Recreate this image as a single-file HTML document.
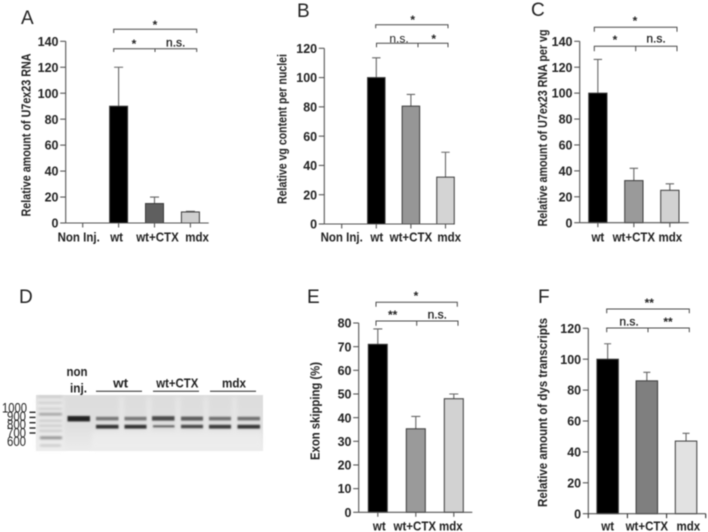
<!DOCTYPE html>
<html lang="en">
<head>
<meta charset="utf-8">
<title>U7ex23 RNA and exon skipping figure</title>
<style>
html,body{margin:0;padding:0;background:#fff;width:708px;height:532px;overflow:hidden}
svg{display:block;filter:blur(0.4px)}
text{font-family:"Liberation Sans",sans-serif;fill:#222}
</style>
</head>
<body>
<svg id="figure" width="708" height="532" viewBox="0 0 708 532" xmlns="http://www.w3.org/2000/svg">
  <defs>
    <filter id="band-blur" x="-10%" y="-100%" width="120%" height="300%"><feGaussianBlur stdDeviation="0.9"></feGaussianBlur></filter>
    <filter id="gel-blur" x="-5%" y="-5%" width="110%" height="110%"><feGaussianBlur stdDeviation="1.1"></feGaussianBlur></filter>
    <filter id="lane-blur" x="-20%" y="-20%" width="140%" height="140%"><feGaussianBlur stdDeviation="2"></feGaussianBlur></filter>
    <linearGradient id="gel-shade" x1="0" y1="0" x2="0" y2="1">
      <stop offset="0" stop-color="#dcdcdc"></stop>
      <stop offset="0.55" stop-color="#e0e0e0"></stop>
      <stop offset="1" stop-color="#ececec"></stop>
    </linearGradient>
  </defs>
  <g id="panels"></g>

  <g>
    <text x="19" y="303" font-size="19">D</text>
    <rect x="36" y="395" width="227" height="56" fill="url(#gel-shade)"></rect>
    <g filter="url(#lane-blur)" fill="#f0f0f0" opacity="0.6">
      <rect x="36" y="398" width="28" height="52"></rect>
      <rect x="92" y="432" width="170" height="17"></rect>
      <rect x="119.5" y="397" width="4" height="36"></rect>
      <rect x="147" y="397" width="4" height="36"></rect>
      <rect x="176" y="397" width="4" height="36"></rect>
      <rect x="204" y="397" width="4" height="36"></rect>
      <rect x="232.5" y="397" width="4" height="36"></rect>
    </g>
    <g filter="url(#gel-blur)">
      <rect x="38" y="396" width="24" height="1.6" fill="#c8c8c8"></rect>
      <rect x="38" y="402" width="24" height="1.6" fill="#c8c8c8"></rect>
      <rect x="38" y="408" width="24" height="1.6" fill="#c8c8c8"></rect>
      <rect x="39" y="413" width="23" height="2.4" fill="#9a9a9a"></rect>
      <rect x="39" y="420" width="23" height="1.6" fill="#c0c0c0"></rect>
      <rect x="39" y="425" width="23" height="1.6" fill="#c0c0c0"></rect>
      <rect x="39" y="430" width="23" height="1.6" fill="#c0c0c0"></rect>
      <rect x="40" y="436.5" width="22" height="2.6" fill="#8a8a8a"></rect>
      <rect x="40" y="444.5" width="21" height="2" fill="#c4c4c4"></rect>
    </g>
    <g filter="url(#band-blur)">
      <rect x="67.5" y="416" width="22.5" height="5.4" fill="#222"></rect>
      <rect x="96" y="416.8" width="22.5" height="3.6" fill="#777"></rect>
      <rect x="96" y="424.8" width="22.5" height="3.8" fill="#333"></rect>
      <rect x="124.5" y="416.8" width="22" height="3.6" fill="#777"></rect>
      <rect x="124.5" y="424.8" width="22" height="3.8" fill="#333"></rect>
      <rect x="152" y="416.2" width="22.5" height="4.4" fill="#4a4a4a"></rect>
      <rect x="153" y="425.3" width="21.5" height="2" fill="#5a5a5a"></rect>
      <rect x="181" y="416.6" width="22" height="4" fill="#5c5c5c"></rect>
      <rect x="181" y="424.8" width="22" height="3.4" fill="#444"></rect>
      <rect x="209" y="416.8" width="22" height="3.6" fill="#707070"></rect>
      <rect x="209" y="424.8" width="22" height="3.8" fill="#3a3a3a"></rect>
      <rect x="237.5" y="416.8" width="22.5" height="3.6" fill="#707070"></rect>
      <rect x="237.5" y="424.8" width="22.5" height="3.8" fill="#363636"></rect>
    </g>
    <g font-size="13.5" text-anchor="end" lengthAdjust="spacingAndGlyphs">
      <text x="27" y="412.5" textLength="25" lengthAdjust="spacingAndGlyphs">1000</text>
      <text x="26" y="420.8" textLength="19" lengthAdjust="spacingAndGlyphs">900</text>
      <text x="26" y="429.2" textLength="19" lengthAdjust="spacingAndGlyphs">800</text>
      <text x="26" y="437.5" textLength="19" lengthAdjust="spacingAndGlyphs">700</text>
      <text x="26" y="446.2" textLength="19" lengthAdjust="spacingAndGlyphs">600</text>
    </g>
    <g stroke="#222" stroke-width="1.4">
      <line x1="29.5" x2="35.5" y1="412.3" y2="412.3"></line>
      <line x1="29.5" x2="35.5" y1="417.4" y2="417.4"></line>
      <line x1="29.5" x2="35.5" y1="422.7" y2="422.7"></line>
      <line x1="29.5" x2="35.5" y1="428" y2="428"></line>
      <line x1="29.5" x2="35.5" y1="433" y2="433"></line>
    </g>
    <g font-size="12.5" font-weight="bold" text-anchor="middle">
      <text x="77" y="376" textLength="21" lengthAdjust="spacingAndGlyphs">non</text>
      <text x="78.5" y="392.5" textLength="17" lengthAdjust="spacingAndGlyphs">inj.</text>
      <text x="120.7" y="387.5" textLength="15" lengthAdjust="spacingAndGlyphs">wt</text>
      <text x="177.3" y="387.5" textLength="42" lengthAdjust="spacingAndGlyphs">wt+CTX</text>
      <text x="234" y="387.5" textLength="24" lengthAdjust="spacingAndGlyphs">mdx</text>
    </g>
    <g stroke="#222" stroke-width="1">
      <line x1="96" x2="142" y1="391.3" y2="391.3"></line>
      <line x1="153" x2="199" y1="391.3" y2="391.3"></line>
      <line x1="210" x2="256" y1="391.3" y2="391.3"></line>
    </g>
  </g>
</svg>
<script>
// Panel A
const aCategories = ['Non Inj.', 'wt', 'wt+CTX', 'mdx'];
const aValues = [0, 90, 15, 8.5];
const aErrors = [0, 30, 5, 0.5];
const aTicks = [0, 20, 40, 60, 80, 100, 120, 140];
// Panel B
const bCategories = ['Non Inj.', 'wt', 'wt+CTX', 'mdx'];
const bValues = [0, 100, 80.5, 32];
const bErrors = [0, 13.5, 8, 17];
const bTicks = [0, 20, 40, 60, 80, 100, 120];
// Panel C
const cCategories = ['wt', 'wt+CTX', 'mdx'];
const cValues = [100, 32.5, 25];
const cErrors = [26, 9.5, 5];
const cTicks = [0, 20, 40, 60, 80, 100, 120, 140];
// Panel E
const eCategories = ['wt', 'wt+CTX', 'mdx'];
const eValues = [71, 35.3, 48];
const eErrors = [6.5, 5.2, 2];
const eTicks = [0, 10, 20, 30, 40, 50, 60, 70, 80];
// Panel F
const fCategories = ['wt', 'wt+CTX', 'mdx'];
const fValues = [100, 86, 47];
const fErrors = [10, 5.5, 5];
const fTicks = [0, 20, 40, 60, 80, 100, 120];

const NS = 'http://www.w3.org/2000/svg';
const root = document.getElementById('panels');

function el(tag, attrs, parent, text) {
  const node = document.createElementNS(NS, tag);
  for (const k in attrs) node.setAttribute(k, attrs[k]);
  if (text !== undefined) node.textContent = text;
  parent.appendChild(node);
  return node;
}

function squeeze(node, factor) {
  const w = node.getComputedTextLength();
  node.setAttribute('textLength', (w * factor).toFixed(2));
  node.setAttribute('lengthAdjust', 'spacingAndGlyphs');
}

function drawBracket(g, b) {
  const path = el('path', {
    d: 'M' + b.x1 + ' ' + (b.y + b.drop) + 'V' + b.y + 'H' + b.x2 + 'V' + (b.y + b.drop) +
       (b.mid ? 'M' + b.mid + ' ' + b.y + 'V' + (b.y + b.drop) : ''),
    fill: 'none', stroke: '#4a4a4a', 'stroke-width': 1
  }, g);
  
  
}

function drawMark(g, m) {
  const isNs = m.s === 'n.s.';
  const t = el('text', {
    x: m.x, y: m.y + 4, 'font-size': isNs ? 12 : 12,
    'font-weight': isNs ? 'normal' : 'bold', 'text-anchor': 'middle',
    stroke: isNs && m.heavy ? '#222' : 'none', 'stroke-width': 0.3
  }, g, m.s);
  
  
}

function drawPanel(p) {
  const g = el('g', {}, root);
  
  

  const letter = el('text', { x: p.letter[0], y: p.letter[1], 'font-size': 19 }, g, p.id.toUpperCase());
  
  

  const yMax = p.ticks[p.ticks.length - 1];
  const yScale = v => p.y0 - (v / yMax) * (p.y0 - p.yTop);
  const xScale = i => p.first + i * p.step;

  // bars and error bars
  p.values.forEach((v, i) => {
    if (v <= 0) return;
    const cx = xScale(i);
    const top = yScale(v + p.errors[i]);
    const whisker = el('path', {
      d: 'M' + cx + ' ' + yScale(v) + 'V' + top + 'M' + (cx - p.cap) + ' ' + top + 'H' + (cx + p.cap),
      fill: 'none', stroke: '#666', 'stroke-width': 1.1
    }, g);
    
    

    const bar = el('rect', {
      x: cx - p.barW / 2, y: yScale(v), width: p.barW, height: p.y0 - yScale(v),
      fill: p.colors[i], stroke: '#3a3a3a', 'stroke-width': 1
    }, g);
    
    
  });

  // y axis
  const yAxis = el('line', { x1: p.x0, x2: p.x0, y1: yScale(yMax), y2: p.y0, stroke: '#555', 'stroke-width': 1.1 }, g);
  
  

  p.ticks.forEach(t => {
    const tick = el('line', { x1: p.x0 - 5.5, x2: p.x0, y1: yScale(t), y2: yScale(t), stroke: '#555', 'stroke-width': 1.1 }, g);
    
    
    const lab = el('text', {
      x: p.x0 - 7.2, y: yScale(t) + 4.6, 'font-size': 13, 'font-weight': 'bold', 'text-anchor': 'end'
    }, g, String(t));
    
    
    squeeze(lab, 0.96);
  });

  // x axis
  const xAxis = el('line', { x1: p.x0, x2: p.xEnd, y1: p.y0, y2: p.y0, stroke: '#555', 'stroke-width': 1.1 }, g);
  
  

  p.categories.forEach((c, i) => {
    if (!p.edgeTicks) {
      const tick = el('line', { x1: xScale(i), x2: xScale(i), y1: p.y0, y2: p.y0 + 4.5, stroke: '#555', 'stroke-width': 1.1 }, g);
      
      
    }
    const lab = el('text', {
      x: xScale(i) + p.labelDx[i], y: p.labelY, 'font-size': 12.8, 'font-weight': 'bold', 'text-anchor': 'middle'
    }, g, c);
    
    
    squeeze(lab, 0.9);
  });

  if (p.edgeTicks) {
    for (let i = 0; i <= p.categories.length; i++) {
      const ex = p.x0 + i * (p.xEnd - p.x0) / p.categories.length;
      const tick = el('line', { x1: ex, x2: ex, y1: p.y0, y2: p.y0 + 4.5, stroke: '#333', 'stroke-width': 1.1 }, g);
      
      
    }
  }

  // y axis title
  const title = el('text', {
    transform: 'translate(' + p.title.x + ' ' + p.title.cy + ') rotate(-90)',
    'font-size': 12.5, 'font-weight': 'bold', 'text-anchor': 'middle',
    textLength: p.title.len, lengthAdjust: 'spacingAndGlyphs'
  }, g, p.title.text);
  
  

  p.brackets.forEach(b => drawBracket(g, b));
  p.marks.forEach(m => drawMark(g, m));
}

drawPanel({
  id: 'a', categories: aCategories, values: aValues, errors: aErrors, ticks: aTicks,
  colors: ['#000', '#000', '#5f5f5f', '#cfcfcf'],
  x0: 65.7, xEnd: 208.7, y0: 223, yTop: 41.3, first: 82.7, step: 35.9, barW: 18, cap: 4.5,
  labelDx: [-4, -2, 3, 6.7], labelY: 241.5, letter: [21, 24],
  title: { text: 'Relative amount of U7ex23 RNA', x: 30.5, cy: 135, len: 163 },
  brackets: [
    { x1: 113.7, x2: 196.7, y: 29.3, drop: 3.7 },
    { x1: 113.7, x2: 196.7, y: 48.7, drop: 3.3, mid: 155 }
  ],
  marks: [{ s: '*', x: 155, y: 25 }, { s: '*', x: 134, y: 44 }, { s: 'n.s.', x: 175.7, y: 42.5, heavy: true }]
});

drawPanel({
  id: 'b', categories: bCategories, values: bValues, errors: bErrors, ticks: bTicks,
  colors: ['#000', '#000', '#969696', '#d4d4d4'],
  x0: 324.3, xEnd: 453.5, y0: 224, yTop: 48.3, first: 341.7, step: 34.6, barW: 17.5, cap: 4.2,
  labelDx: [0, 0.5, 0, 3.7], labelY: 241.5, letter: [297, 17],
  title: { text: 'Relative vg content per nuclei', x: 286.5, cy: 129, len: 150 },
  brackets: [
    { x1: 375.7, x2: 448, y: 24.7, drop: 3.6 },
    { x1: 376.5, x2: 448, y: 43.3, drop: 4, mid: 418 }
  ],
  marks: [{ s: '*', x: 412.7, y: 20 }, { s: 'n.s.', x: 399, y: 38.5 }, { s: '*', x: 433.7, y: 39 }]
});

drawPanel({
  id: 'c', categories: cCategories, values: cValues, errors: cErrors, ticks: cTicks,
  colors: ['#000', '#9a9a9a', '#d2d2d2'],
  x0: 579.7, xEnd: 688.7, y0: 222.7, yTop: 41.3, first: 597.85, step: 36, barW: 18.3, cap: 4.2,
  labelDx: [0, 0, 0.5], labelY: 241.5, letter: [531, 16],
  title: { text: 'Relative amount of U7ex23 RNA per vg', x: 547, cy: 128, len: 197 },
  brackets: [
    { x1: 594.3, x2: 677, y: 27.3, drop: 4.4 },
    { x1: 594.3, x2: 677, y: 46.3, drop: 5, mid: 635.7 }
  ],
  marks: [{ s: '*', x: 635, y: 21 }, { s: '*', x: 615, y: 40 }, { s: 'n.s.', x: 656, y: 38.5, heavy: true }]
});

drawPanel({
  id: 'e', categories: eCategories, values: eValues, errors: eErrors, ticks: eTicks,
  colors: ['#000', '#9a9a9a', '#d2d2d2'],
  x0: 358.7, xEnd: 472.3, y0: 512.3, yTop: 323, first: 377.8, step: 38, barW: 19, cap: 4.5,
  labelDx: [1.5, -1, -3], labelY: 530.5, letter: [307, 303],
  title: { text: 'Exon skipping (%)', x: 319.5, cy: 411, len: 98 },
  brackets: [
    { x1: 376, x2: 457.3, y: 302.3, drop: 4.4 },
    { x1: 376, x2: 458, y: 321, drop: 4.7, mid: 416.7 }
  ],
  marks: [{ s: '*', x: 416, y: 296 }, { s: '**', x: 392.7, y: 315 }, { s: 'n.s.', x: 437.3, y: 314.5, heavy: true }]
});

drawPanel({
  id: 'f', categories: fCategories, values: fValues, errors: fErrors, ticks: fTicks,
  colors: ['#000', '#7f7f7f', '#e2e2e2'],
  x0: 588.3, xEnd: 705.7, y0: 513.7, yTop: 328.3, first: 607.65, step: 39.2, barW: 21.5, cap: 3.5,
  edgeTicks: true,
  labelDx: [0, 0, 2.3], labelY: 530.5, letter: [538, 303],
  title: { text: 'Relative amount of dys transcripts', x: 547, cy: 412.5, len: 189 },
  brackets: [
    { x1: 606.7, x2: 689.3, y: 309, drop: 4.3 },
    { x1: 606.7, x2: 689.3, y: 328, drop: 4.3, mid: 648 }
  ],
  marks: [{ s: '**', x: 649.3, y: 303 }, { s: 'n.s.', x: 629, y: 321.5, heavy: true }, { s: '**', x: 668, y: 322 }]
});
</script>
</body>
</html>
